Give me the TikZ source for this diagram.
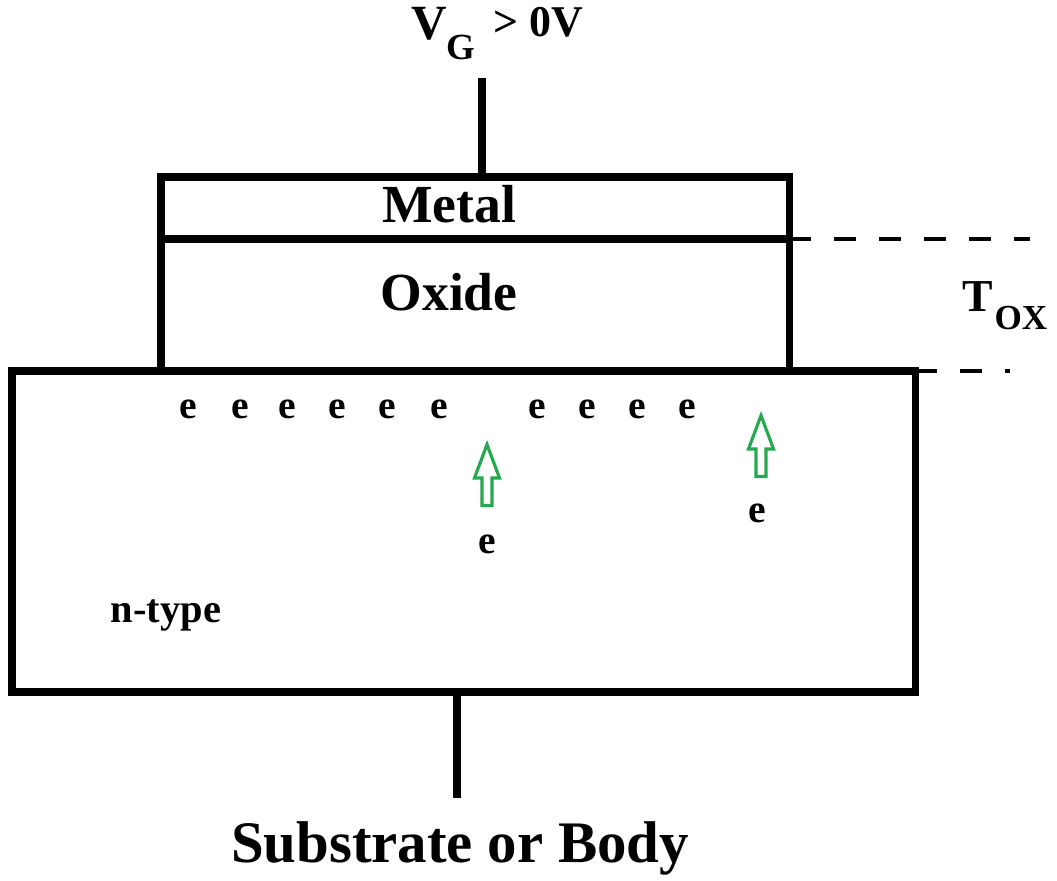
\documentclass[tikz,border=0pt]{standalone}
\usepackage{fontspec}
\setmainfont{Liberation Serif}
\definecolor{driftgreen}{RGB}{38,168,78}
\begin{document}
\begin{tikzpicture}[
  layer/.style={draw, line width=4pt, outer sep=0pt, inner sep=0pt},
  wire/.style={line width=4pt},
  guide/.style={line width=2.2pt, dash pattern=on 0.44cm off 0.46cm},
  lbl/.style={font=\bfseries\fontsize{30.5}{35}\selectfont, anchor=base, inner sep=0pt},
  elec/.style={font=\bfseries\fontsize{22.5}{26}\selectfont, anchor=base, inner sep=0pt},
  drift/.style={draw=driftgreen, line width=1.8pt, line join=miter}
]
\useasboundingbox (0,0) rectangle (21.14,17.6);

% Gate stack
\node[layer, minimum width=12.56cm, minimum height=1.24cm] (metal) at (9.5,13.44) {};
\node[layer, minimum width=12.56cm, minimum height=2.64cm] (oxide) at (9.5,11.5) {};

% Substrate
\node[layer, minimum width=18.06cm, minimum height=6.42cm] (substrate) at (9.27,6.97) {};

% Terminals
\coordinate (gate) at (9.64,16.04);
\coordinate (body) at (9.14,1.64);
\draw[wire] (gate) -- (gate |- metal.north);
\draw[wire] (substrate.south -| body) -- (body);

% Layer labels
\node[lbl] (metallbl) at (8.98,13.14) {Metal};
\node[lbl] (oxidelbl) at (8.98,11.40) {Oxide};
\node[lbl, font=\bfseries\fontsize{33.5}{38}\selectfont] (bodylbl) at (9.2,0.36) {Substrate or Body};
\node[elec, font=\bfseries\fontsize{23}{27}\selectfont] (ntype) at (3.32,5.16) {n-type};

% Gate voltage
\node[anchor=base west, inner sep=0pt, font=\bfseries] (vg) at (8.22,16.8)
  {{\fontsize{28}{31}\selectfont V}\raisebox{-0.4cm}{\fontsize{21}{24}\selectfont G}\hspace{0.36cm}\raisebox{0.06cm}{\fontsize{25}{28}\selectfont > 0V}};

% Oxide thickness
\draw[guide] (oxide.north east) -- ++(4.82,0);
\draw[guide] (substrate.north east) -- ++(1.9,0);
\node[anchor=base west, inner sep=0pt, font=\bfseries] (tox) at (19.24,11.36)
  {{\fontsize{26}{30}\selectfont T}\kern1pt\raisebox{-0.36cm}{\fontsize{20}{24}\selectfont OX}};

% Electrons at the surface
\foreach \x [count=\i] in {3.77,4.8,5.74,6.74,7.74,8.78,10.74,11.74,12.74,13.74}
  \node[elec] (e\i) at (\x,9.24) {e};

% Electrons drifting up
\foreach \x/\y in {9.74/7.49, 15.22/8.07}
  \draw[drift] (\x-0.1,\y) -- (\x-0.1,\y+0.55) -- (\x-0.25,\y+0.55) -- (\x,\y+1.22)
    -- (\x+0.25,\y+0.55) -- (\x+0.1,\y+0.55) -- (\x+0.1,\y) -- cycle;
\node[elec] (e11) at (9.74,6.54) {e};
\node[elec] (e12) at (15.14,7.16) {e};

\end{tikzpicture}
\end{document}
